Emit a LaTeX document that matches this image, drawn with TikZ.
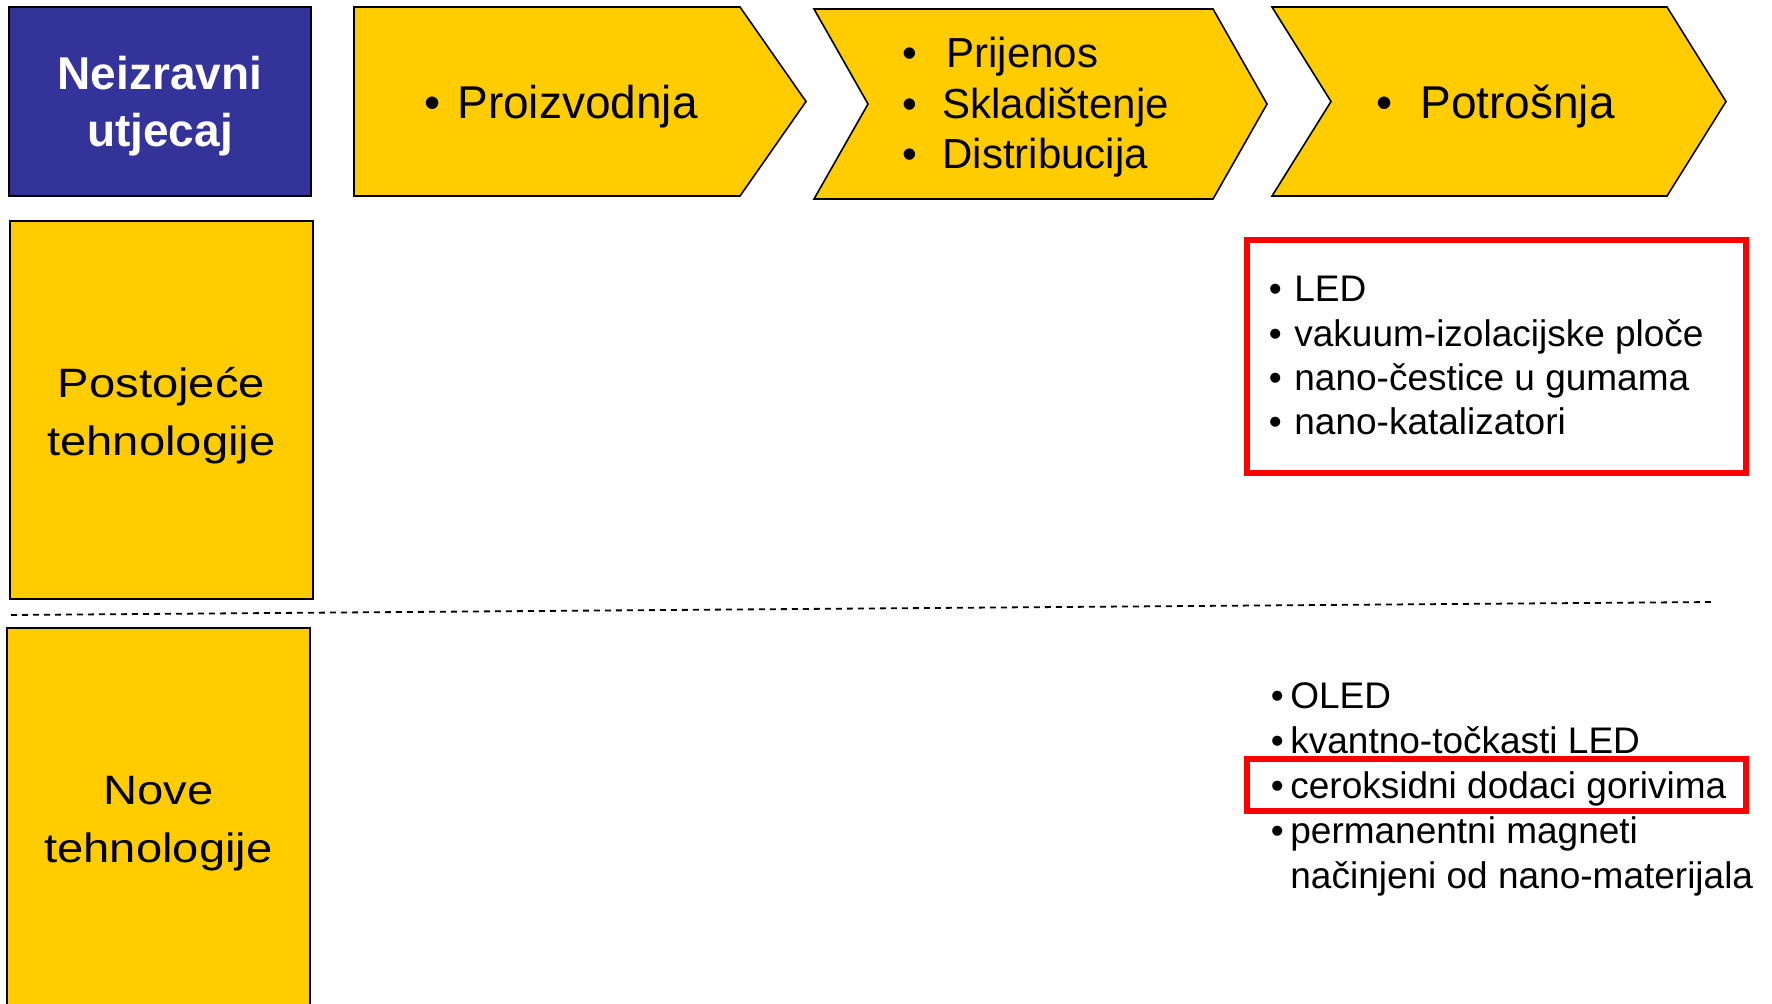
\documentclass[tikz,border=0pt]{standalone}
\usepackage{fontspec}
\setmainfont{Liberation Sans}
\newfontfamily\widefont[FakeStretch=1.15]{Liberation Sans}
\definecolor{barfill}{HTML}{FFCC00}
\definecolor{headblue}{HTML}{333399}
\definecolor{markred}{HTML}{FF0000}
\newcommand\itm[2]{\makebox[#1][l]{•}#2}

\begin{document}
\begin{tikzpicture}[x=0.5pt,y=-0.5pt,
  panel/.style={fill=barfill, draw=black, line width=0.8pt},
  headpanel/.style={fill=headblue, draw=black, line width=0.8pt},
  lt/.style={inner sep=0pt, anchor=base west},
  ct/.style={inner sep=0pt, anchor=base},
  bigtxt/.style={font=\fontsize{23}{27}\selectfont},
  headtxt/.style={font=\fontsize{23}{27}\selectfont\bfseries, text=white},
  midtxt/.style={font=\fontsize{21}{25}\selectfont},
  listtxt/.style={font=\fontsize{18.5}{22}\selectfont},
  rowtxt/.style={font=\fontsize{20.5}{24}\widefont},
  highlight/.style={draw=markred, line width=2.6pt},
  divider/.style={line width=0.9pt, dash pattern=on 3pt off 2.5pt}]
\useasboundingbox (0,0) rectangle (1772,1003);

% header box
\draw[headpanel] (9,7) rectangle (311,196);
\node[ct, headtxt] (h1) at (160,89) {Neizravni};
\node[ct, headtxt] (h2) at (160,146) {utjecaj};

% process chevrons
\draw[panel] (354,7) -- (740,7) -- (806,101.5) -- (740,196) -- (354,196) -- cycle;
\draw[panel] (814,9) -- (1213,9) -- (1267,104) -- (1213,199) -- (814,199) -- (868,104) -- cycle;
\draw[panel] (1272,7) -- (1667,7) -- (1726,101.5) -- (1667,196) -- (1272,196) -- (1331,101.5) -- cycle;

\node[lt, bigtxt] (p1) at (424,118) {\itm{16.5pt}{Proizvodnja}};
\node[lt, midtxt] (p2a) at (902,67) {\itm{22pt}{Prijenos}};
\node[lt, midtxt] (p2b) at (902,118) {\itm{20pt}{Skladištenje}};
\node[lt, midtxt] (p2c) at (902,168) {\itm{20pt}{Distribucija}};
\node[lt, bigtxt] (p3) at (1376,118) {\itm{22pt}{Potrošnja}};

% row headers
\draw[panel] (10,221) rectangle (313,599);
\node[ct, rowtxt] (r1a) at (161.5,397) {Postojeće};
\node[ct, rowtxt] (r1b) at (161.5,455) {tehnologije};

\draw[panel] (7,628) rectangle (310,1012);
\node[ct, rowtxt] (r2a) at (158.5,804) {Nove};
\node[ct, rowtxt] (r2b) at (158.5,862) {tehnologije};

% row divider
\draw[divider] (11,615) -- (1714,602);

% existing technologies
\draw[highlight] (1247,240) rectangle (1746,473);
\node[lt, listtxt] (e1) at (1268.5,301) {\itm{12.75pt}{LED}};
\node[lt, listtxt] (e2) at (1268.5,346) {\itm{12.75pt}{vakuum-izolacijske ploče}};
\node[lt, listtxt] (e3) at (1268.5,390) {\itm{12.75pt}{nano-čestice u gumama}};
\node[lt, listtxt] (e4) at (1268.5,434) {\itm{12.75pt}{nano-katalizatori}};

% new technologies
\draw[highlight] (1247,759) rectangle (1746,811);
\node[lt, listtxt] (n1) at (1270.5,708) {\itm{9.75pt}{OLED}};
\node[lt, listtxt] (n2) at (1270.5,753) {\itm{9.75pt}{kvantno-točkasti LED}};
\node[lt, listtxt] (n3) at (1270.5,798) {\itm{9.75pt}{ceroksidni dodaci gorivima}};
\node[lt, listtxt] (n4) at (1270.5,843) {\itm{9.75pt}{permanentni magneti}};
\node[lt, listtxt] (n5) at (1290,888) {načinjeni od nano-materijala};
\end{tikzpicture}
\end{document}
